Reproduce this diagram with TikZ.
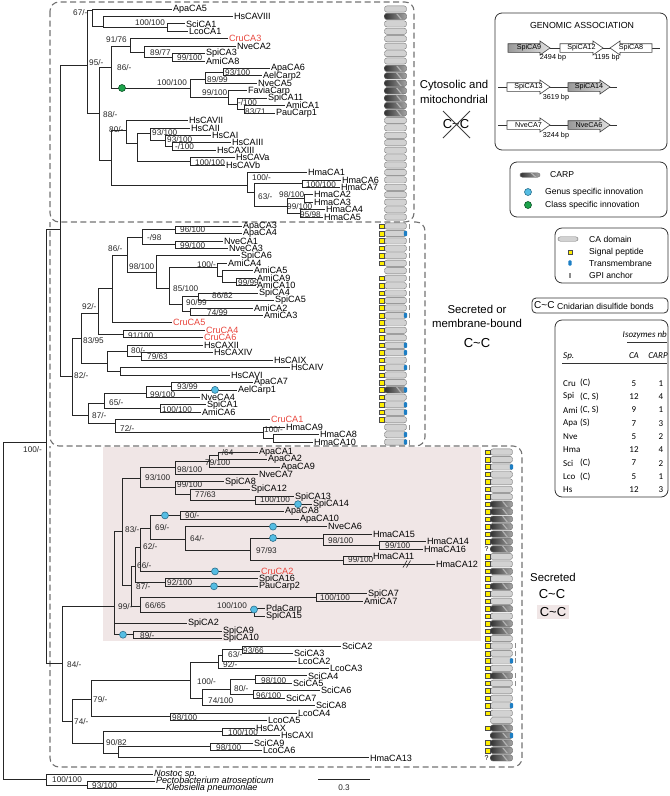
\documentclass[tikz,border=0pt]{standalone}
\usepackage{fontspec}
\setmainfont{Liberation Sans}
\newfontfamily\tabfont{Carlito}

\definecolor{cruRed}{HTML}{E8453C}
\definecolor{pinkBg}{HTML}{F0E6E6}
\definecolor{caGray}{HTML}{D2D2D2}
\definecolor{spYellow}{HTML}{FFEE00}
\definecolor{tmBlue}{HTML}{1C7EC4}
\definecolor{genusBlue}{HTML}{55BDE3}
\definecolor{genusLine}{HTML}{2A6F8C}
\definecolor{classGreen}{HTML}{1DA34B}
\definecolor{classLine}{HTML}{0D5427}

\tikzset{
  br/.style={draw=black!85, line width=0.75pt},
  leaf/.style={anchor=west, inner sep=0.8pt, font=\fontsize{9.1}{9.1}\selectfont},
  cru/.style={leaf, text=cruRed},
  outg/.style={leaf, font=\fontsize{9.1}{9.1}\selectfont\itshape},
  boot/.style={anchor=west, inner sep=0pt, font=\fontsize{8.2}{8.2}\selectfont, text=black!85},
  cabox/.style={draw=black!55, fill=caGray, rounded corners=2.4pt, minimum width=22pt, minimum height=6.2pt, inner sep=0pt},
  carpbox/.style={cabox, left color=black!80, right color=black!35,
    path picture={\draw[white!70!black, line width=1.2pt] ([xshift=1pt]path picture bounding box.north) -- ([xshift=6pt]path picture bounding box.south);}},
  sigpep/.style={draw=black!70, fill=spYellow, minimum size=4.6pt, inner sep=0pt},
  tmem/.style={fill=tmBlue, rounded corners=1pt, minimum width=3.4pt, minimum height=5.2pt, inner sep=0pt},
  gpi/.style={fill=black!45, minimum width=1.5pt, minimum height=5pt, inner sep=0pt},
  qmark/.style={font=\fontsize{7}{7}\selectfont, inner sep=0pt},
  genusdot/.style={circle, draw=genusLine, fill=genusBlue, line width=0.6pt, minimum size=7pt, inner sep=0pt},
  classdot/.style={circle, draw=classLine, fill=classGreen, line width=0.6pt, minimum size=7pt, inner sep=0pt},
  dbox/.style={draw=black!55, line width=1.1pt, dash pattern=on 6pt off 3.5pt, rounded corners=9pt},
  legbox/.style={draw=black!80, line width=0.8pt, rounded corners=7pt},
  legtxt/.style={anchor=west, inner sep=0pt, font=\fontsize{8.6}{8.6}\selectfont},
  arrtxt/.style={inner sep=0pt, font=\fontsize{7.2}{7.2}\selectfont},
  bptxt/.style={inner sep=0pt, font=\fontsize{7.2}{7.2}\selectfont},
  bigtxt/.style={inner sep=0pt, align=center, font=\fontsize{11.4}{14.5}\selectfont},
  cctxt/.style={inner sep=1pt, font=\fontsize{13}{13}\selectfont},
  tabtxt/.style={anchor=west, inner sep=0pt, font=\tabfont\fontsize{9}{9}\selectfont},
}

% gene arrow of the genomic association panel: name, tail x, head x, y, fill, text
\newcommand{\genarr}[6]{%
  \path[draw=black!75, line width=0.6pt, #5]
    (#2,#4-4.3) -- ({#3-(#3-#2)/abs(#3-#2)*10},#4-4.3)
    -- ({#3-(#3-#2)/abs(#3-#2)*10},#4-7) -- (#3,#4)
    -- ({#3-(#3-#2)/abs(#3-#2)*10},#4+7) -- ({#3-(#3-#2)/abs(#3-#2)*10},#4+4.3)
    -- (#2,#4+4.3) -- cycle;
  \node[arrtxt] (#1) at ({(#2+#3)/2},#4) {#6};}

\begin{document}
\begin{tikzpicture}[x=1pt,y=1pt,yscale=-1]
\useasboundingbox (0,0) rectangle (670,796);

% shaded secreted clade
\fill[pinkBg] (103,447) rectangle (481,641);

% dashed groups
\draw[dbox] (50,2) rectangle (414,222);
\draw[dbox] (414,222) -- (425,222) -- (425,446) -- (50,446) -- (50,222);
\draw[dbox] (425,446) -- (522,446) -- (522,767) -- (50,767) -- (50,446);

% leaves, cytosolic group
\foreach \nm/\x/\st [count=\i from 0] in {ApaCA5/172/leaf, HsCAVIII/233/leaf, SciCA1/185/leaf, LcoCA1/188/leaf,
  CruCA3/228/cru, NveCA2/236/leaf, SpiCA3/205/leaf, AmiCA8/205/leaf, ApaCA6/270/leaf, AelCarp2/262/leaf,
  NveCA5/257/leaf, FaviaCarp/247/leaf, SpiCA11/267/leaf, AmiCA1/285/leaf, PauCarp1/275/leaf, HsCAVII/188/leaf,
  HsCAII/190/leaf, HsCAI/211/leaf, HsCAIII/231/leaf, HsCAXIII/216/leaf, HsCAVa/235/leaf, HsCAVb/225/leaf,
  HmaCA1/307/leaf, HmaCA6/341/leaf, HmaCA7/340/leaf, HmaCA2/313/leaf, HmaCA3/313/leaf, HmaCA4/325/leaf, HmaCA5/323/leaf}
  \node[\st] (\nm) at (\x,{9+7.43*\i}) {\nm};

% leaves, secreted or membrane-bound group
\foreach \nm/\x/\st [count=\i from 0] in {ApaCA3/242/leaf, ApaCA4/242/leaf, NveCA1/223/leaf, NveCA3/228/leaf,
  SpiCA6/240/leaf, AmiCA4/227/leaf, AmiCA5/253/leaf, AmiCA9/256/leaf, AmiCA10/256/leaf, SpiCA4/258/leaf,
  SpiCA5/274/leaf, AmiCA2/253/leaf, AmiCA3/263/leaf, CruCA5/172/cru, CruCA4/205/cru, CruCA6/203/cru,
  HsCAXII/203/leaf, HsCAXIV/213/leaf, HsCAIX/273/leaf, HsCAIV/290/leaf, HsCAVI/230/leaf, ApaCA7/253/leaf,
  AelCarp1/237/leaf, NveCA4/200/leaf, SpiCA1/206/leaf, AmiCA6/201/leaf, CruCA1/270/cru, HmaCA9/285/leaf,
  HmaCA8/319/leaf, HmaCA10/313/leaf}
  \node[\st] (\nm) at (\x,{226+7.45*\i}) {\nm};

% leaves, secreted group
\foreach \nm/\x/\st [count=\i from 0] in {ApaCA1/258/leaf, ApaCA2/267/leaf, ApaCA9/280/leaf, NveCA7/258/leaf,
  SpiCA8/224/leaf, SpiCA12/250/leaf, SpiCA13/294/leaf, SpiCA14/312/leaf, ApaCA8/284/leaf, ApaCA10/299/leaf,
  NveCA6/327/leaf, HmaCA15/372/leaf, HmaCA14/426/leaf, HmaCA16/423/leaf, HmaCA11/372/leaf, HmaCA12/435/leaf,
  CruCA2/260/cru, SpiCA16/258/leaf, PauCarp2/258/leaf, SpiCA7/367/leaf, AmiCA7/363/leaf, PdaCarp/265/leaf,
  SpiCA15/265/leaf, SpiCA2/187/leaf, SpiCA9/222/leaf, SpiCA10/222/leaf, SciCA2/341/leaf, SciCA3/293/leaf,
  LcoCA2/297/leaf, LcoCA3/329/leaf, SciCA4/307/leaf, SciCA5/292/leaf, SciCA6/320/leaf, SciCA7/285/leaf,
  SciCA8/315/leaf, LcoCA4/297/leaf, LcoCA5/267/leaf, HsCAX/255/leaf, HsCAXI/280/leaf, SciCA9/253/leaf,
  LcoCA6/262/leaf, HmaCA13/369/leaf}
  \node[\st] (\nm) at (\x,{452+7.46*\i}) {\nm};

% outgroup
\node[outg] (Nostoc) at (153,774) {Nostoc sp.};
\node[outg] (Pecto) at (155,781.5) {Pectobacterium atrosepticum};
\node[outg] (Kleb) at (165,788.5) {Klebsiella pneumoniae};

% internal nodes
\coordinate (tSL) at (167,27.6);   \coordinate (tHs8) at (103,26);   \coordinate (t67) at (92,10);
\coordinate (tH) at (172,57.3);    \coordinate (tG) at (144,52);     \coordinate (tF) at (130,46);
\coordinate (tK) at (223,72);      \coordinate (tJ) at (205,79);     \coordinate (tN) at (244,109.3);
\coordinate (tM) at (237,104);     \coordinate (tL) at (228,97);     \coordinate (tI) at (190,88);
\coordinate (tD) at (111,67);      \coordinate (tT) at (172,146.5);  \coordinate (tS) at (165,140);
\coordinate (tR) at (150,133);     \coordinate (tV) at (190,161.3);  \coordinate (tQ) at (137,143);
\coordinate (tP) at (126,130);     \coordinate (tY) at (302,183.6);  \coordinate (tZa) at (304,198.5);
\coordinate (tZb) at (300,213.3);  \coordinate (tZ) at (287,206);    \coordinate (tX) at (254,192);
\coordinate (tW) at (247,185);     \coordinate (tO) at (111,160);    \coordinate (tE) at (99,113);
\coordinate (tB) at (87,65);       \coordinate (tA) at (60,229);

\coordinate (sA34) at (175,229.7); \coordinate (sN13) at (175,244.6); \coordinate (sU5) at (142,237);
\coordinate (sU10) at (236,282);   \coordinate (sU9) at (222,276);    \coordinate (sU8) at (217,267);
\coordinate (sU12) at (198,296.8); \coordinate (sU13) at (190,311.7); \coordinate (sU11) at (182,304);
\coordinate (sU7) at (169,288);    \coordinate (sU6) at (156,272);    \coordinate (sU4) at (127,255);
\coordinate (sU3) at (112,288);    \coordinate (sC46) at (123,334);   \coordinate (sU2) at (98,313);
\coordinate (sU16) at (141,356.4); \coordinate (sU15) at (127,351);   \coordinate (sU17) at (120,371.3);
\coordinate (sU14) at (107,363);   \coordinate (sU1) at (81,338);     \coordinate (sU21) at (171,386.2);
\coordinate (sU20) at (146,393);   \coordinate (sU22) at (160,408.5); \coordinate (sU19) at (104,403);
\coordinate (sU25) at (273,438.4); \coordinate (sU24) at (263,432);   \coordinate (sU23) at (115,423);
\coordinate (sU18) at (88,415);    \coordinate (sU) at (72,376);

\coordinate (pA12) at (218,455.8); \coordinate (pA) at (209,461);     \coordinate (pAN) at (175,467);
\coordinate (pS1314) at (255,500.5); \coordinate (p77) at (190,494);  \coordinate (pS) at (175,487);
\coordinate (p93) at (140,478);    \coordinate (pA810) at (180,515.4); \coordinate (pH1416) at (379,545.3);
\coordinate (pH15) at (323,538);   \coordinate (pH1112) at (343,560.2); \coordinate (p9793) at (250,550);
\coordinate (p64) at (185,539);    \coordinate (p69) at (150,528);    \coordinate (p62) at (140,547);
\coordinate (p92) at (165,582.5);  \coordinate (p66) at (135,566);    \coordinate (pSA7) at (316,597.5);
\coordinate (pPS) at (254,612.4);  \coordinate (p6665) at (140,606);  \coordinate (p87) at (131,585);
\coordinate (p83) at (122,531);    \coordinate (p910) at (133,634.7); \coordinate (p99) at (114,606);

\coordinate (b9366) at (242,649.7); \coordinate (b63) at (222,655);   \coordinate (b92) at (218,662);
\coordinate (b45) at (255,679.5);  \coordinate (b67) at (253,694.4);  \coordinate (b80) at (230,689);
\coordinate (b74) at (202,698);    \coordinate (b100) at (190,680);   \coordinate (bL45) at (170,716.8);
\coordinate (b79) at (91,699);     \coordinate (bHs) at (222,731.7);  \coordinate (bS9) at (210,746.6);
\coordinate (bH13) at (118,753);   \coordinate (b90) at (103,743);    \coordinate (b74b) at (72,721);
\coordinate (b84) at (62,663);

\coordinate (iN) at (46,442);      \coordinate (og2) at (87,785);     \coordinate (og) at (46,779);
\coordinate (root) at (3,610);

% branches
\foreach \p/\c in {tSL/SciCA1, tSL/LcoCA1, tHs8/HsCAVIII, tHs8/tSL, t67/ApaCA5, t67/tHs8,
  tH/SpiCA3, tH/AmiCA8, tG/NveCA2, tG/tH, tF/CruCA3, tF/tG, tK/ApaCA6, tK/AelCarp2, tJ/tK, tJ/NveCA5,
  tN/AmiCA1, tN/PauCarp1, tM/SpiCA11, tM/tN, tL/FaviaCarp, tL/tM, tI/tJ, tI/tL, tD/tF, tD/tI,
  tT/HsCAIII, tT/HsCAXIII, tS/HsCAI, tS/tT, tR/HsCAII, tR/tS, tV/HsCAVa, tV/HsCAVb, tQ/tR, tQ/tV,
  tP/HsCAVII, tP/tQ, tY/HmaCA6, tY/HmaCA7, tZa/HmaCA2, tZa/HmaCA3, tZb/HmaCA4, tZb/HmaCA5,
  tZ/tZa, tZ/tZb, tX/tY, tX/tZ, tW/HmaCA1, tW/tX, tO/tP, tO/tW, tE/tD, tE/tO, tB/t67, tB/tE,
  tA/tB, tA/sU}
  \draw[br] (\p) |- (\c);
\foreach \p/\c in {sA34/ApaCA3, sA34/ApaCA4, sN13/NveCA1, sN13/NveCA3, sU5/sA34, sU5/sN13,
  sU10/AmiCA9, sU10/AmiCA10, sU9/AmiCA5, sU9/sU10, sU8/AmiCA4, sU8/sU9, sU12/SpiCA4, sU12/SpiCA5,
  sU13/AmiCA2, sU13/AmiCA3, sU11/sU12, sU11/sU13, sU7/sU8, sU7/sU11, sU6/SpiCA6, sU6/sU7,
  sU4/sU5, sU4/sU6, sU3/sU4, sU3/CruCA5, sC46/CruCA4, sC46/CruCA6, sU2/sU3, sU2/sC46,
  sU16/HsCAXIV, sU16/HsCAIX, sU15/HsCAXII, sU15/sU16, sU17/HsCAIV, sU17/HsCAVI, sU14/sU15, sU14/sU17,
  sU1/sU2, sU1/sU14, sU21/ApaCA7, sU21/AelCarp1, sU20/sU21, sU20/NveCA4, sU22/SpiCA1, sU22/AmiCA6,
  sU19/sU20, sU19/sU22, sU25/HmaCA8, sU25/HmaCA10, sU24/HmaCA9, sU24/sU25, sU23/CruCA1, sU23/sU24,
  sU18/sU19, sU18/sU23, sU/sU1, sU/sU18}
  \draw[br] (\p) |- (\c);
\foreach \p/\c in {pA12/ApaCA1, pA12/ApaCA2, pA/pA12, pA/ApaCA9, pAN/pA, pAN/NveCA7,
  pS1314/SpiCA13, pS1314/SpiCA14, p77/SpiCA12, p77/pS1314, pS/SpiCA8, pS/p77, p93/pAN, p93/pS,
  pA810/ApaCA8, pA810/ApaCA10, pH1416/HmaCA14, pH1416/HmaCA16, pH15/HmaCA15, pH15/pH1416,
  pH1112/HmaCA11, pH1112/HmaCA12, p9793/pH15, p9793/pH1112, p64/NveCA6, p64/p9793,
  p69/pA810, p69/p64, p62/p69, p62/CruCA2, p92/SpiCA16, p92/PauCarp2, p66/p62, p66/p92,
  pSA7/SpiCA7, pSA7/AmiCA7, pPS/PdaCarp, pPS/SpiCA15, p6665/pSA7, p6665/pPS, p87/p66, p87/p6665,
  p83/p93, p83/p87, p910/SpiCA9, p910/SpiCA10, p99/p83, p99/SpiCA2, p99/p910}
  \draw[br] (\p) |- (\c);
\foreach \p/\c in {b9366/SciCA2, b9366/SciCA3, b63/b9366, b63/LcoCA2, b92/b63, b92/LcoCA3,
  b45/SciCA4, b45/SciCA5, b67/SciCA6, b67/SciCA7, b80/b45, b80/b67, b74/b80, b74/SciCA8,
  b100/b92, b100/b74, bL45/LcoCA4, bL45/LcoCA5, b79/b100, b79/bL45, bHs/HsCAX, bHs/HsCAXI,
  bS9/SciCA9, bS9/LcoCA6, bH13/bS9, bH13/HmaCA13, b90/bHs, b90/bH13, b74b/b79, b74b/b90,
  b84/p99, b84/b74b, iN/tA, iN/b84, og2/Pecto, og2/Kleb, og/Nostoc, og/og2, root/iN, root/og}
  \draw[br] (\p) |- (\c);

% long branch cut
\draw[br, line width=0.6pt] (403,567.5) -- (407,560.5) (406.5,567.5) -- (410.5,560.5);

% innovations
\node[classdot] (cls1) at (122,88) {};
\node[genusdot] (gen1) at (215,389.9) {};
\node[genusdot] (gen2) at (165,515.4) {};
\node[genusdot] (gen3) at (273,526.6) {};
\node[genusdot] (gen4) at (273,538) {};
\node[genusdot] (gen5) at (215,571.4) {};
\node[genusdot] (gen6) at (214,586.3) {};
\node[genusdot] (gen7) at (298,504.2) {};
\node[genusdot] (gen8) at (254,609.5) {};
\node[genusdot] (gen9) at (123,634.7) {};

% support values
\node[boot] (l-t67) at (73,13) {67/-};
\node[boot] (l-tSL) at (135,23) {100/100};
\node[boot] (l-tF) at (106,40) {91/76};
\node[boot] (l-tG) at (150,53) {89/77};
\node[boot] (l-tH) at (177,58) {99/100};
\node[boot] (l-tB) at (89,63) {95/-};
\node[boot] (l-tD) at (117,68) {86/-};
\node[boot] (l-tK) at (225,73) {93/100};
\node[boot] (l-tJ) at (207,80) {89/99};
\node[boot] (l-tI) at (157,83) {100/100};
\node[boot] (l-tL) at (202,93) {99/100};
\node[boot] (l-tM) at (238,103) {-/100};
\node[boot] (l-tN) at (245,112) {83/71};
\node[boot] (l-tE) at (103,115) {88/-};
\node[boot] (l-tP) at (109,130) {80/-};
\node[boot] (l-tR) at (152,133) {93/100};
\node[boot] (l-tS) at (167,140) {93/100};
\node[boot] (l-tT) at (175,147) {-/100};
\node[boot] (l-tV) at (195,163) {100/100};
\node[boot] (l-tW) at (252,178) {100/-};
\node[boot] (l-tY) at (306,185) {100/100};
\node[boot] (l-tZa) at (279,195) {98/100};
\node[boot] (l-tX) at (258,197) {63/-};
\node[boot] (l-tZ) at (287,207) {99/100};
\node[boot] (l-tZb) at (300,215) {95/98};

\node[boot] (l-sA34) at (180,230) {96/100};
\node[boot] (l-sU5) at (147,238) {-/98};
\node[boot] (l-sN13) at (180,246) {99/100};
\node[boot] (l-sU3) at (108,249) {86/-};
\node[boot] (l-sU8) at (197,265) {100/-};
\node[boot] (l-sU6) at (129,267) {98/100};
\node[boot] (l-sU10) at (238,283) {99/99};
\node[boot] (l-sU7) at (173,289) {85/100};
\node[boot] (l-sU12) at (212,296) {86/82};
\node[boot] (l-sU11) at (186,303) {90/99};
\node[boot] (l-sU2) at (82,307) {92/-};
\node[boot] (l-sU13) at (207,313) {74/99};
\node[boot] (l-sC46) at (128,336) {91/100};
\node[boot] (l-sU1) at (83,341) {83/95};
\node[boot] (l-sU15) at (131,351) {80/-};
\node[boot] (l-sU16) at (147,357) {79/63};
\node[boot] (l-sU) at (74,376) {82/-};
\node[boot] (l-sU21) at (177,387) {93/99};
\node[boot] (l-sU20) at (150,395) {99/100};
\node[boot] (l-sU19) at (109,403) {65/-};
\node[boot] (l-sU22) at (162,410) {100/100};
\node[boot] (l-sU18) at (92,416) {87/-};
\node[boot] (l-sU23) at (120,429) {72/-};
\node[boot] (l-sU24) at (264,430) {100/-};

\node[boot] (l-pA12) at (219,453) {-/64};
\node[boot] (l-pA) at (205,463) {79/100};
\node[boot] (l-pAN) at (177,470) {98/100};
\node[boot] (l-p93) at (145,478) {93/100};
\node[boot] (l-pS) at (177,485) {99/100};
\node[boot] (l-p77) at (195,495) {77/63};
\node[boot] (l-pS1314) at (260,500) {100/100};
\node[boot] (l-pA810) at (185,516) {90/-};
\node[boot] (l-p69) at (155,528) {69/-};
\node[boot] (l-p83) at (125,530) {83/-};
\node[boot] (l-p64) at (190,539) {64/-};
\node[boot] (l-pH15) at (328,541) {98/100};
\node[boot] (l-pH1416) at (385,546) {99/100};
\node[boot] (l-p62) at (143,547) {62/-};
\node[boot] (l-p9793) at (256,551) {97/93};
\node[boot] (l-pH1112) at (348,560) {99/100};
\node[boot] (l-p66) at (137,566) {66/-};
\node[boot] (l-p92) at (167,583) {92/100};
\node[boot] (l-p87) at (136,587) {87/-};
\node[boot] (l-pSA7) at (320,598) {100/100};
\node[boot] (l-p6665) at (145,606) {66/65};
\node[boot] (l-p99) at (118,607) {99/-};
\node[boot] (l-pPS) at (217,606) {100/100};
\node[boot] (l-p910) at (140,636) {89/-};

\node[boot] (l-b9366) at (243,651) {93/66};
\node[boot] (l-b63) at (228,655) {63/-};
\node[boot] (l-b92) at (223,665) {92/-};
\node[boot] (l-b84) at (67,665) {84/-};
\node[boot] (l-b45) at (261,681) {98/100};
\node[boot] (l-b100) at (197,682) {100/-};
\node[boot] (l-b80) at (234,689) {80/-};
\node[boot] (l-b67) at (256,696) {96/100};
\node[boot] (l-b79) at (93,700) {79/-};
\node[boot] (l-b74) at (208,701) {74/100};
\node[boot] (l-bL45) at (172,718) {98/100};
\node[boot] (l-b74b) at (74,722) {74/-};
\node[boot] (l-bHs) at (228,733) {100/100};
\node[boot] (l-b90) at (106,743) {90/82};
\node[boot] (l-bS9) at (216,748) {98/100};
\node[boot] (l-iN) at (23,450) {100/-};
\node[boot] (l-og) at (52,780) {100/100};
\node[boot] (l-og2) at (92,786) {93/100};

% scale bar
\coordinate (sb1) at (318,779);
\coordinate (sb2) at (370,779);
\draw[br] (sb1) -- (sb2);
\node[boot, anchor=center] (sbl) at (344,788) {0.3};

% domain column, cytosolic and membrane-bound groups
\foreach \i in {0,...,28} \node[cabox] (caT\i) at (395.5,{9+7.43*\i}) {};
\foreach \i in {1,8,9,...,14} \node[carpbox] (kT\i) at (395.5,{9+7.43*\i}) {};
\foreach \i in {0,...,29} \node[cabox] (caS\i) at (395.5,{226+7.45*\i}) {};
\node[carpbox] (kS22) at (395.5,{226+7.45*22}) {};
\foreach \i in {0,1,2,3,4,5,7,8,...,26} \node[sigpep] (spS\i) at (381.5,{226+7.45*\i}) {};
\foreach \i in {1,12,16,17,19,22,24,25,28,29} \node[tmem] (tmS\i) at (405.5,{226+7.45*\i}) {};
\foreach \i in {0,2,3,...,12,19,27,29} \node[gpi] (gpS\i) at (409.5,{226+7.45*\i}) {};

% domain column, secreted group
\foreach \i in {0,...,41} \node[cabox] (caP\i) at (501.5,{452+7.46*\i}) {};
\foreach \i in {7,8,...,13,16,18,21,23,24,30,37,38,39,40,41} \node[carpbox] (kP\i) at (501.5,{452+7.46*\i}) {};
\foreach \i in {0,1,...,12,14,15,...,35,37,39,40} \node[sigpep] (spP\i) at (487.5,{452+7.46*\i}) {};
\foreach \i in {13,41} \node[qmark] (qP\i) at (486.5,{452+7.46*\i}) {?};
\foreach \i in {2,28,34,38} \node[tmem] (tmP\i) at (511.5,{452+7.46*\i}) {};
\foreach \i in {26,27,28,30,31} \node[gpi] (gpP\i) at (515.5,{452+7.46*\i}) {};

% group captions
\node[bigtxt] (cyto) at (454,92) {Cytosolic and\\mitochondrial};
\node[cctxt] (ccNo) at (456,124) {C\textasciitilde C};
\draw[black!75, line width=0.9pt] (443,111) -- (470,138) (470,111) -- (443,138);
\node[bigtxt] (memb) at (477,316.5) {Secreted or\\membrane-bound};
\node[cctxt] (ccMb) at (477,343) {C\textasciitilde C};
\node[bigtxt] (secr) at (553,577) {Secreted};
\node[cctxt] (ccSe) at (552,594) {C\textasciitilde C};
\node[cctxt, fill=pinkBg, inner xsep=3pt, inner ysep=2.5pt] (ccSh) at (553,612) {C\textasciitilde C};

% genomic association
\draw[legbox] (495,13) rectangle (667,150);
\node[inner sep=0pt, font=\fontsize{8.8}{8.8}\selectfont] (gaTitle) at (582,25) {GENOMIC ASSOCIATION};
\draw[black!80, line width=0.6pt] (550,48) -- (660,48);
\draw[black!80, line width=0.6pt] (498,87) -- (617,87);
\draw[black!80, line width=0.6pt] (498,125) -- (617,125);
\genarr{gSpi9}{508}{550}{48}{left color=black!40, right color=black!12}{SpiCA9}
\genarr{gSpi12}{560}{603}{48}{fill=white}{SpiCA12}
\genarr{gSpi8}{652}{610}{48}{fill=white}{SpiCA8}
\genarr{gSpi13}{507}{550}{87}{fill=white}{SpiCA13}
\genarr{gSpi14}{568}{610}{87}{left color=black!40, right color=black!12}{SpiCA14}
\genarr{gNve7}{507}{550}{125}{fill=white}{NveCA7}
\genarr{gNve6}{568}{610}{125}{left color=black!40, right color=black!12}{NveCA6}
\node[bptxt] (bp1) at (553,58) {2494 bp};
\node[bptxt] (bp2) at (607,58) {1195 bp};
\node[bptxt] (bp3) at (556,98) {3619 bp};
\node[bptxt] (bp4) at (556,136) {3244 bp};

% legend, CARP and innovations
\draw[legbox] (510,162) rectangle (667,217);
\node[carpbox, minimum width=20pt, minimum height=4.5pt] (lgCarp) at (530,175) {};
\node[legtxt] (lgCarpT) at (550,175) {CARP};
\node[genusdot] (lgGen) at (528,192) {};
\node[legtxt] (lgGenT) at (545,192) {Genus specific innovation};
\node[classdot] (lgCls) at (528,205) {};
\node[legtxt] (lgClsT) at (545,205) {Class specific innovation};

% legend, domains
\draw[legbox] (555,228) rectangle (668,283);
\node[cabox, minimum width=20pt, minimum height=4.5pt] (lgCa) at (568,239) {};
\node[legtxt] (lgCaT) at (589,239) {CA domain};
\node[sigpep, minimum size=4pt] (lgSp) at (570,252) {};
\node[legtxt] (lgSpT) at (589,252) {Signal peptide};
\node[tmem] (lgTm) at (570,263) {};
\node[legtxt] (lgTmT) at (589,263) {Transmembrane};
\node[gpi] (lgGpi) at (570,275) {};
\node[legtxt] (lgGpiT) at (589,275) {GPI anchor};

% legend, disulfide bonds
\draw[legbox, rounded corners=4pt] (532,298) rectangle (668,313);
\node[anchor=west, inner sep=0pt, font=\fontsize{10}{10}\selectfont] (lgCC) at (534,305.5) {C\textasciitilde C};
\node[legtxt] (lgCCT) at (557,306) {Cnidarian disulfide bonds};

% isozyme counts
\draw[legbox] (555,320) rectangle (668,497);
\node[tabtxt, anchor=east] (tIso) at (667,335) {\itshape Isozymes nb};
\draw[black!80, line width=0.6pt] (627,342) -- (667,342);
\node[tabtxt] (tSp) at (563,356) {\itshape Sp.};
\node[tabtxt, anchor=center] (tCA) at (634,356) {\itshape CA};
\node[tabtxt, anchor=center] (tCARP) at (658,356) {\itshape CARP};
\draw[black!80, line width=0.6pt] (562,363) -- (667,363);
\foreach \sp/\cl/\ca/\cp [count=\r from 0] in {Cru/(C)/5/1, Spi/{(C, S)}/12/4, Ami/{(C, S)}/9/1,
  Apa/(S)/7/3, Nve//5/2, Hma//12/4, Sci/(C)/7/2, Lco/(C)/5/1, Hs//12/3} {
  \node[tabtxt] (tsp\r) at (563,{383.3+13.3*\r}) {\sp};
  \node[tabtxt] (tcl\r) at (580,{383.3+13.3*\r}) {\cl};
  \node[tabtxt, anchor=center] (tca\r) at (634,{383.3+13.3*\r}) {\ca};
  \node[tabtxt, anchor=center] (tcp\r) at (661,{383.3+13.3*\r}) {\cp};
}

\end{tikzpicture}
\end{document}
